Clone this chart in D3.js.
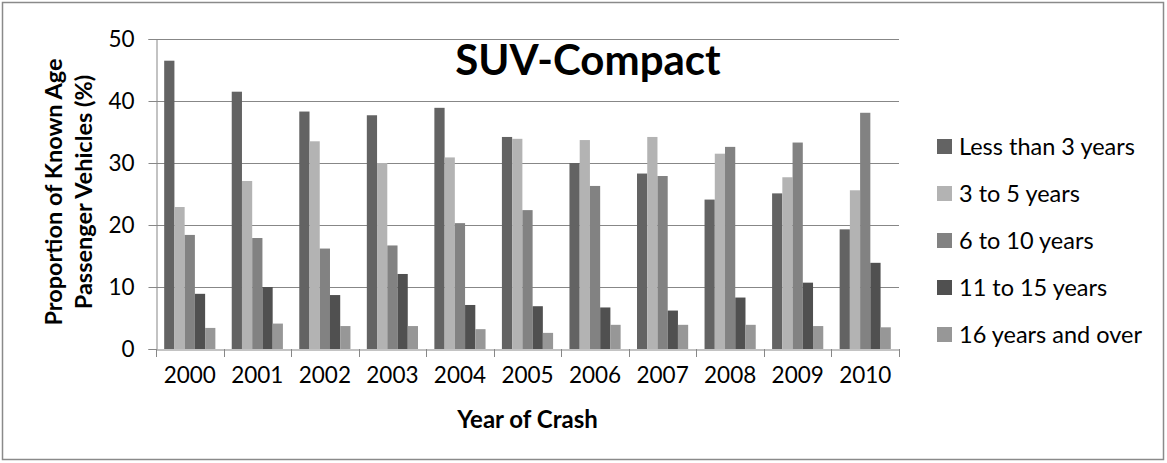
<!DOCTYPE html>
<html>
<head>
<meta charset="utf-8">
<script src="https://cdn.jsdelivr.net/npm/d3@7"></script>
<style>
  html, body { margin: 0; padding: 0; background: #fff; }
  svg text { font-family: Lato, "Open Sans", sans-serif; fill: #000; }
</style>
</head>
<body>
<svg id="chart" width="1167" height="463"></svg>
<script>
// Crash years (categories)
const years = ["2000", "2001", "2002", "2003", "2004", "2005", "2006", "2007", "2008", "2009", "2010"];

// Vehicle age groups (series names)
const ageGroups = ["Less than 3 years", "3 to 5 years", "6 to 10 years", "11 to 15 years", "16 years and over"];

// Share of known-age passenger vehicles (%) per age group, by crash year
const lessThan3 = [46.5, 41.5, 38.3, 37.7, 38.9, 34.2, 30.0, 28.3, 24.1, 25.1, 19.3];
const threeToFive = [22.9, 27.1, 33.5, 30.0, 30.9, 33.9, 33.7, 34.2, 31.5, 27.7, 25.6];
const sixToTen = [18.4, 17.9, 16.2, 16.7, 20.3, 22.4, 26.3, 27.9, 32.6, 33.3, 38.1];
const elevenToFifteen = [8.9, 10.0, 8.7, 12.1, 7.1, 6.9, 6.7, 6.2, 8.3, 10.7, 13.9];
const sixteenPlus = [3.4, 4.1, 3.7, 3.7, 3.2, 2.6, 3.9, 3.9, 3.9, 3.7, 3.5];

// Y-axis tick values
const yTicks = [0, 10, 20, 30, 40, 50];

const seriesValues = [lessThan3, threeToFive, sixToTen, elevenToFifteen, sixteenPlus];
const colors = ["#636363", "#b3b3b3", "#828282", "#505050", "#979797"];

const svg = d3.select("#chart");
const plot = { left: 156, right: 899, top: 39, bottom: 349 };
const gridColor = "#878787";

// Outer chart frame
svg.append("rect")
  .attr("x", 2.5).attr("y", 2.5)
  .attr("width", 1161).attr("height", 457)
  .attr("fill", "none")
  .attr("stroke", "#8a8a8a")
  .attr("stroke-width", 1.5);

const x0 = d3.scaleBand().domain(years).range([plot.left, plot.right]).padding(0);
const x1 = d3.scaleBand().domain(ageGroups).range([0, x0.bandwidth()])
  .paddingInner(0).paddingOuter(0.8);
const y = d3.scaleLinear().domain([0, 50]).range([plot.bottom, plot.top]);

// Horizontal gridlines
svg.append("g")
  .selectAll("line")
  .data(yTicks.filter(t => t > 0))
  .join("line")
  .attr("x1", plot.left).attr("x2", plot.right)
  .attr("y1", d => Math.round(y(d)) + 0.5).attr("y2", d => Math.round(y(d)) + 0.5)
  .attr("stroke", gridColor).attr("stroke-width", 1);

// Bars
const groups = svg.append("g")
  .selectAll("g")
  .data(years)
  .join("g")
  .attr("transform", d => `translate(${x0(d)},0)`);

groups.selectAll("rect")
  .data((yr, i) => ageGroups.map((g, s) => ({ group: g, s, value: seriesValues[s][i] })))
  .join("rect")
  .attr("x", d => x1(d.group))
  .attr("width", x1.bandwidth())
  .attr("y", d => y(d.value))
  .attr("height", d => y(0) - y(d.value))
  .attr("fill", d => colors[d.s]);

// Y axis
const yAxis = d3.axisLeft(y).tickValues(yTicks).tickSize(8).tickPadding(14).tickFormat(d3.format("d"));
const yG = svg.append("g")
  .attr("transform", `translate(${plot.left + 0.5},0)`)
  .call(yAxis);
yG.select(".domain").attr("stroke", gridColor);
yG.selectAll(".tick line").attr("stroke", gridColor);
yG.selectAll(".tick text")
  .attr("font-family", "Lato, sans-serif")
  .attr("font-size", 22.5)
  .attr("fill", "#000");

// X axis with ticks at category boundaries
const xAxis = d3.axisBottom(x0).tickSize(0).tickPadding(18);
const xG = svg.append("g")
  .attr("transform", `translate(0,${plot.bottom + 0.5})`)
  .call(xAxis);
xG.select(".domain").attr("stroke", gridColor);
xG.selectAll(".tick text")
  .attr("font-family", "Lato, sans-serif")
  .attr("font-size", 22.5)
  .attr("fill", "#000");
svg.append("g")
  .selectAll("line")
  .data(years.map(d => x0(d)).concat([plot.right]))
  .join("line")
  .attr("x1", d => Math.round(d) + 0.5).attr("x2", d => Math.round(d) + 0.5)
  .attr("y1", plot.bottom).attr("y2", plot.bottom + 8)
  .attr("stroke", gridColor);

// Chart title
svg.append("text")
  .attr("x", 588).attr("y", 75)
  .attr("text-anchor", "middle")
  .attr("font-weight", "bold")
  .attr("font-size", 42)
  .text("SUV-Compact");

// Axis titles
svg.append("text")
  .attr("x", (plot.left + plot.right) / 2).attr("y", 428)
  .attr("text-anchor", "middle")
  .attr("font-weight", "bold")
  .attr("font-size", 24)
  .text("Year of Crash");

const yTitle = svg.append("text")
  .attr("transform", `translate(0,${(57 + 327) / 2}) rotate(-90)`)
  .attr("text-anchor", "middle")
  .attr("font-weight", "bold")
  .attr("font-size", 23.5);
yTitle.append("tspan").attr("x", 0).attr("y", 62).text("Proportion of Known Age");
yTitle.append("tspan").attr("x", 0).attr("y", 92).text("Passenger Vehicles (%)");

// Legend
const legend = svg.append("g")
  .selectAll("g")
  .data(ageGroups)
  .join("g")
  .attr("transform", (d, i) => `translate(937,${146.5 + i * 47})`);
legend.append("rect")
  .attr("x", 0).attr("y", -7.5)
  .attr("width", 15).attr("height", 15)
  .attr("fill", (d, i) => colors[i]);
legend.append("text")
  .attr("x", 22).attr("y", 0)
  .attr("dy", "0.35em")
  .attr("font-size", 23.5)
  .text(d => d);
</script>
</body>
</html>
